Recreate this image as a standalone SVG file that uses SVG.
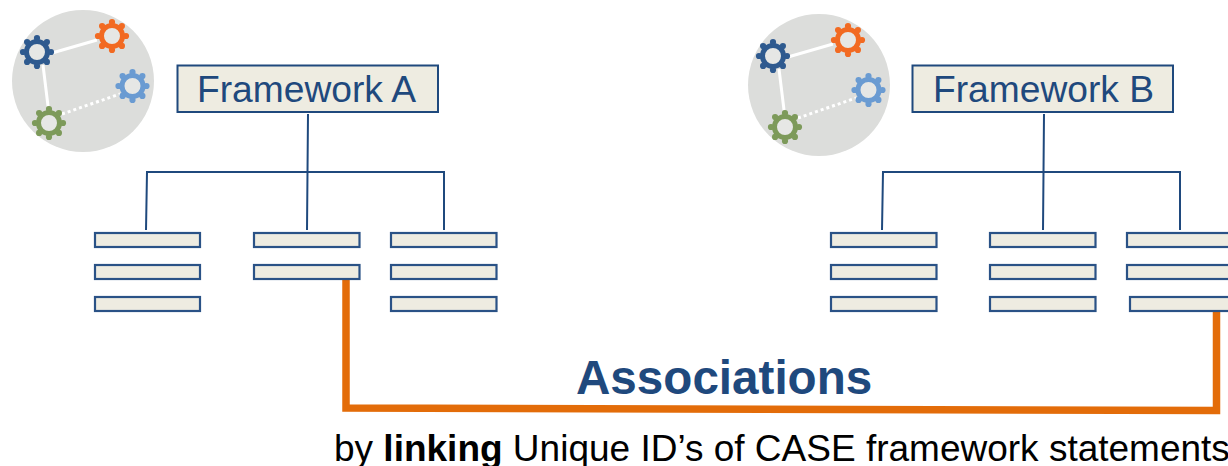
<svg xmlns="http://www.w3.org/2000/svg" xmlns:xlink="http://www.w3.org/1999/xlink" width="1228" height="466" viewBox="0 0 1228 466">
<style>
.bar{fill:#eeece1;stroke:#2a5286;stroke-width:2.2}
.title{fill:#eeece1;stroke:#1f497d;stroke-width:2}
.tree{fill:none;stroke:#1f497d;stroke-width:2}
.assoc{fill:none;stroke:#e36c09;stroke-width:7.500;stroke-linejoin:miter}
.t{font-family:"Liberation Sans",Arial,sans-serif}
.link{stroke:#fff;stroke-width:3;fill:none}
</style>
<defs>
<filter id="soft" x="-5%" y="-5%" width="110%" height="110%"><feGaussianBlur stdDeviation="0.7"/></filter>
<g id="gear">
<circle r="10.500" fill="#e6e7e5" stroke="currentColor" stroke-width="5"/>
<g fill="currentColor">
<circle cx="0" cy="-14" r="3.100"/><circle cx="9.900" cy="-9.900" r="3.100"/><circle cx="14" cy="0" r="3.100"/><circle cx="9.900" cy="9.900" r="3.100"/><circle cx="0" cy="14" r="3.100"/><circle cx="-9.900" cy="9.900" r="3.100"/><circle cx="-14" cy="0" r="3.100"/><circle cx="-9.900" cy="-9.900" r="3.100"/>
</g>
</g>
<g id="badge" filter="url(#soft)">
<circle cx="83" cy="81" r="71" fill="#dcdddb"/>
<path class="link" d="M52 53 97 40M43 65 48 106"/>
<path class="link" stroke-dasharray="3 3" d="M62 114 120 94"/>
<use xlink:href="#gear" href="#gear" x="37" y="52" color="#2f5a8f"/>
<use xlink:href="#gear" href="#gear" x="112" y="36" color="#f26a21"/>
<use xlink:href="#gear" href="#gear" x="132.500" y="86" color="#6a9bd2"/>
<use xlink:href="#gear" href="#gear" x="49" y="123" color="#7d9a5a"/>
</g>
</defs>
<g id="badge-a"><use xlink:href="#badge" href="#badge"/></g>
<g id="badge-b"><use xlink:href="#badge" href="#badge" x="736" y="4"/></g>
<g id="connectors">
<path class="tree" d="M308 114 307 230M146 230 147 172H444V230"/>
<path class="tree" d="M1044 114 1043 230M882 230 883 172H1180V230"/>
<path class="assoc" d="M346 279V408L1216.500 410.500V311"/>
</g>
<g id="framework-a"><rect class="title" x="177.500" y="65.500" width="260.500" height="46.500"/><text class="t" x="197" y="102" font-size="37.200" fill="#1f497d">Framework A</text></g>
<g id="framework-b"><rect class="title" x="912.500" y="65.500" width="260.500" height="46.500"/><text class="t" x="933" y="102" font-size="37.200" fill="#1f497d">Framework B</text></g>
<g id="a-1-1"><rect class="bar" x="95" y="233" width="105" height="14"/></g>
<g id="a-1-2"><rect class="bar" x="95" y="265" width="105" height="14"/></g>
<g id="a-1-3"><rect class="bar" x="95" y="297" width="105" height="14"/></g>
<g id="a-2-1"><rect class="bar" x="254" y="233" width="105.500" height="14"/></g>
<g id="a-2-2"><rect class="bar" x="254" y="265" width="105.500" height="14"/></g>
<g id="a-3-1"><rect class="bar" x="391" y="233" width="105.500" height="14"/></g>
<g id="a-3-2"><rect class="bar" x="391" y="265" width="105.500" height="14"/></g>
<g id="a-3-3"><rect class="bar" x="391" y="297" width="105.500" height="14"/></g>
<g id="b-1-1"><rect class="bar" x="831" y="233" width="105.500" height="14"/></g>
<g id="b-1-2"><rect class="bar" x="831" y="265" width="105.500" height="14"/></g>
<g id="b-1-3"><rect class="bar" x="831" y="297" width="105.500" height="14"/></g>
<g id="b-2-1"><rect class="bar" x="990" y="233" width="105.500" height="14"/></g>
<g id="b-2-2"><rect class="bar" x="990" y="265" width="105.500" height="14"/></g>
<g id="b-2-3"><rect class="bar" x="990" y="297" width="105.500" height="14"/></g>
<g id="b-3-1"><rect class="bar" x="1127" y="233" width="105" height="14"/></g>
<g id="b-3-2"><rect class="bar" x="1127" y="265" width="105" height="14"/></g>
<g id="b-3-3"><rect class="bar" x="1130" y="297" width="102" height="14"/></g>
<text class="t" x="576" y="394" font-size="47.600" font-weight="700" fill="#1f497d">Associations</text>
<text class="t" x="334" y="461" font-size="37" fill="#000">by <tspan font-weight="700">linking</tspan> Unique ID’s of CASE framework statements</text>
</svg>
